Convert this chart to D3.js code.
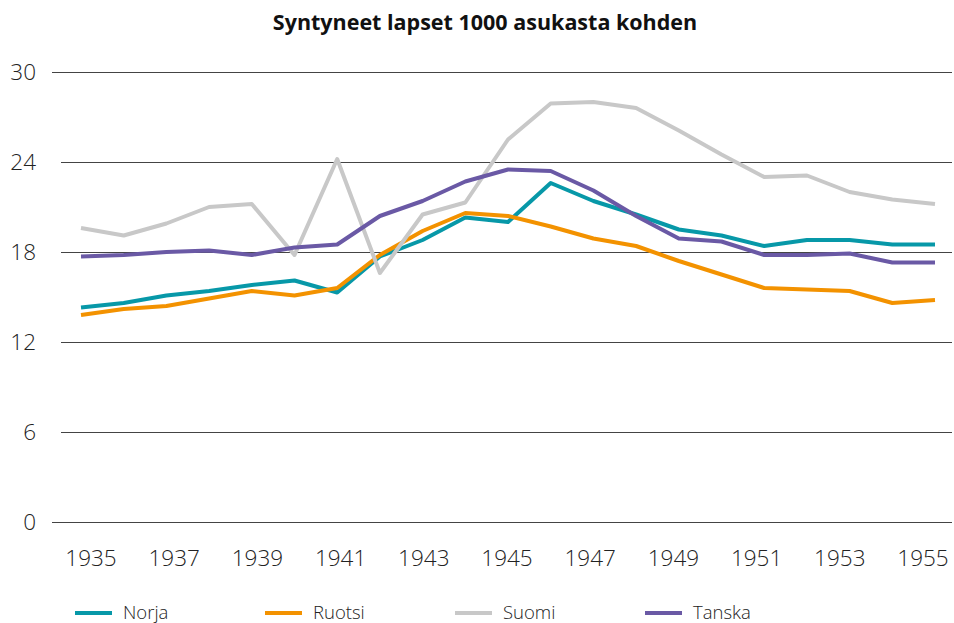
<!DOCTYPE html>
<html>
<head>
<meta charset="utf-8">
<script src="https://cdn.jsdelivr.net/npm/d3@7"></script>
<style>
    body { margin: 0; background: #fff; }
    .tick-label { font-family: "Open Sans", "Segoe UI", sans-serif; font-weight: 300; font-size: 22.5px; fill: #222; }
    .title { font-family: "Open Sans", sans-serif; font-weight: 700; font-size: 21.5px; fill: #111; }
    .legend text { font-family: "Open Sans", sans-serif; font-weight: 300; font-size: 18.5px; fill: #222; }
    .grid line { stroke: #444; stroke-width: 1; shape-rendering: crispEdges; }
    .line { fill: none; stroke-width: 4px; stroke-linejoin: round; }
</style>
</head>
<body>
<div id="chart"></div>
<script>
    var years = d3.range(1935, 1956);
    var yTicks = [0, 6, 12, 18, 24, 30];
    var xTickLabels = [1935, 1937, 1939, 1941, 1943, 1945, 1947, 1949, 1951, 1953, 1955];

    var norja  = [14.3, 14.6, 15.1, 15.4, 15.8, 16.1, 15.3, 17.7, 18.8, 20.3, 20.0, 22.6, 21.4, 20.5, 19.5, 19.1, 18.4, 18.8, 18.8, 18.5, 18.5];
    var ruotsi = [13.8, 14.2, 14.4, 14.9, 15.4, 15.1, 15.6, 17.8, 19.4, 20.6, 20.4, 19.7, 18.9, 18.4, 17.4, 16.5, 15.6, 15.5, 15.4, 14.6, 14.8];
    var suomi  = [19.6, 19.1, 19.9, 21.0, 21.2, 17.8, 24.2, 16.6, 20.5, 21.3, 25.5, 27.9, 28.0, 27.6, 26.1, 24.5, 23.0, 23.1, 22.0, 21.5, 21.2];
    var tanska = [17.7, 17.8, 18.0, 18.1, 17.8, 18.3, 18.5, 20.4, 21.4, 22.7, 23.5, 23.4, 22.1, 20.4, 18.9, 18.7, 17.8, 17.8, 17.9, 17.3, 17.3];

    var series = [
        {name: "Norja", values: norja, color: "#0798A8"},
        {name: "Ruotsi", values: ruotsi, color: "#F39200"},
        {name: "Suomi", values: suomi, color: "#C8C8C8"},
        {name: "Tanska", values: tanska, color: "#6A59A5"}
    ];

    var width = 954, height = 623;
    var svg = d3.select("#chart").append("svg")
        .attr("width", width)
        .attr("height", height);

    var xScale = d3.scaleLinear().domain([1935, 1955]).range([81, 935]);
    // the year labels sit a bit inside the data range in the original
    var xLabelScale = d3.scaleLinear().domain([1935, 1955]).range([91, 923]);
    var yScale = d3.scaleLinear().domain([0, 30]).range([522, 72]);

    // gridlines
    var grid = svg.append("g").attr("class", "grid");
    grid.selectAll("line").data(yTicks).enter()
        .append("line")
        .attr("x1", function (d) { return (d === 0 || d === 30) ? 52 : 61; })
        .attr("x2", 952)
        .attr("y1", function (d) { return Math.round(yScale(d)) + 0.5; })
        .attr("y2", function (d) { return Math.round(yScale(d)) + 0.5; })
        .style("stroke-width", function (d) { return d === 0 ? 1.5 : 1; });

    svg.append("g").selectAll("text").data(yTicks).enter()
        .append("text")
        .attr("class", "tick-label")
        .attr("x", 36)
        .attr("y", function (d) { return yScale(d) + 8; })
        .attr("text-anchor", "end")
        .text(function (d) { return d; });

    svg.append("g").selectAll("text").data(xTickLabels).enter()
        .append("text")
        .attr("class", "tick-label")
        .attr("x", function (d) { return xLabelScale(d); })
        .attr("y", 566)
        .attr("text-anchor", "middle")
        .text(function (d) { return d; });

    var line = d3.line()
        .x(function (d, i) { return xScale(years[i]); })
        .y(function (d) { return yScale(d); });

    svg.append("g").selectAll("path").data(series).enter()
        .append("path")
        .attr("class", "line")
        .attr("stroke", function (d) { return d.color; })
        .attr("d", function (d) { return line(d.values); });

    svg.append("text")
        .attr("class", "title")
        .attr("x", 485)
        .attr("y", 30)
        .attr("text-anchor", "middle")
        .text("Syntyneet lapset 1000 asukasta kohden");

    var legend = svg.append("g").attr("class", "legend");
    var item = legend.selectAll("g").data(series).enter()
        .append("g")
        .attr("transform", function (d, i) { return "translate(" + (75 + i * 190) + ",613)"; });
    item.append("line")
        .attr("x1", 0).attr("x2", 37)
        .attr("y1", 0).attr("y2", 0)
        .attr("stroke", function (d) { return d.color; })
        .attr("stroke-width", 4);
    item.append("text")
        .attr("x", 48)
        .attr("y", 6)
        .text(function (d) { return d.name; });
</script>
</body>
</html>
